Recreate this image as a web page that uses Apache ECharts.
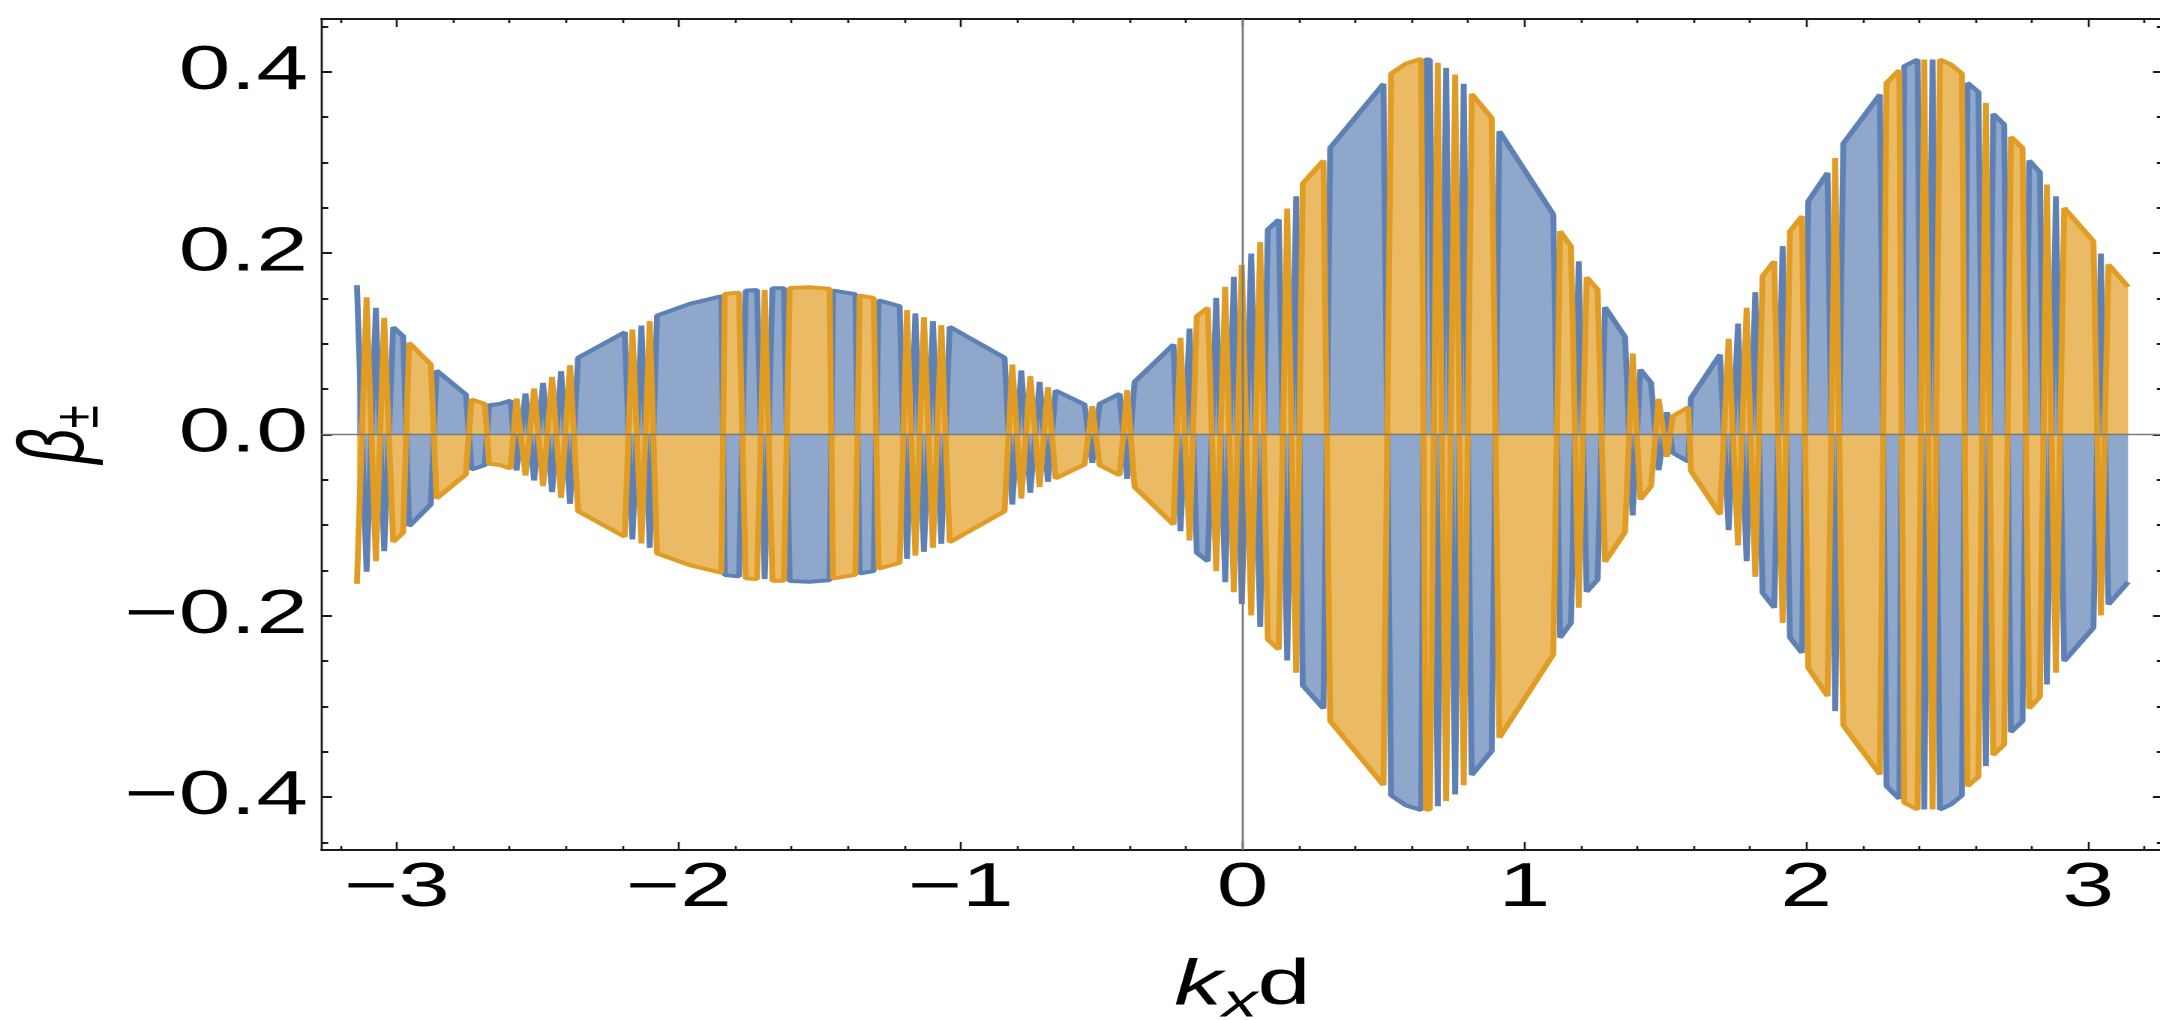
<!DOCTYPE html>
<html><head><meta charset="utf-8">
<script src="https://cdn.jsdelivr.net/npm/echarts@6/dist/echarts.min.js"></script>
<style>
html,body{margin:0;padding:0;background:#fff;width:2160px;height:1020px;overflow:hidden;}
#chart{width:1440px;height:1020px;transform:scaleX(1.5);transform-origin:0 0;}
</style></head><body><div id="chart"></div>
<script>
// k_x d sample points
const kx = [-3.1416,-3.1074,-3.0745,-3.0450,-3.0131,-2.9777,-2.9564,-2.8794,-2.8592,-2.7553,
-2.7351,-2.6879,-2.6727,-2.6348,-2.5968,-2.5755,-2.5436,-2.5131,-2.4812,-2.4493,
-2.4174,-2.3855,-2.3571,-2.1915,-2.1642,-2.1323,-2.1028,-2.0770,-1.9610,-1.8486,
-1.8369,-1.7862,-1.7624,-1.7223,-1.6950,-1.6677,-1.6266,-1.6064,-1.5355,-1.4645,
-1.4528,-1.3734,-1.3582,-1.3085,-1.2908,-1.2163,-1.1904,-1.1606,-1.1301,-1.0982,
-1.0684,-1.0390,-0.8440,-0.8167,-0.7848,-0.7528,-0.7199,-0.6904,-0.6631,-0.5603,
-0.5330,-0.5071,-0.4362,-0.4089,-0.3830,-0.2447,-0.2199,-0.1879,-0.1621,-0.1230,
-0.0933,-0.0613,-0.0309,-0.0025,0.0309,0.0628,0.0897,0.1287,0.1585,0.1904,
0.2138,0.2872,0.3110,0.5000,0.5273,0.5805,0.6337,0.6507,0.6649,0.6926,
0.7223,0.7543,0.7848,0.8131,0.8840,0.9113,1.1028,1.1266,1.1656,1.1926,
1.2209,1.2599,1.2862,1.3571,1.3840,1.4113,1.4493,1.4762,1.5060,1.5259,
1.5816,1.5911,1.6940,1.7245,1.7578,1.7883,1.8191,1.8450,1.8865,1.9160,
1.9422,1.9848,2.0071,2.0755,2.1028,2.1312,2.2613,2.2848,2.3298,2.3475,
2.3947,2.4184,2.4479,2.4741,2.5131,2.5521,2.5720,2.6110,2.6372,2.6631,
2.7021,2.7259,2.7670,2.7908,2.8287,2.8535,2.8855,2.9149,3.0188,3.0450,
3.0720,3.1416];

// beta_+ (blue)
const betaPlus = [0.1647,-0.1514,0.1397,-0.1287,0.1184,0.1085,-0.1011,-0.0772,0.0706,0.0441,
-0.0386,-0.0338,0.0323,0.0338,0.0375,-0.0397,0.0452,-0.0507,0.0570,-0.0636,
0.0698,-0.0764,0.0846,0.1128,-0.1158,0.1202,-0.1250,0.1312,0.1441,0.1526,
-0.1551,-0.1566,0.1588,0.1595,-0.1595,0.1614,0.1614,-0.1617,-0.1625,-0.1607,
0.1588,0.1548,-0.1533,-0.1507,0.1481,0.1415,-0.1371,0.1335,-0.1294,0.1250,
-0.1206,0.1188,0.0846,-0.0772,0.0706,-0.0643,0.0581,-0.0522,0.0485,0.0331,
-0.0312,0.0338,0.0449,-0.0489,0.0581,0.0993,-0.1066,0.1169,-0.1305,-0.1397,
0.1507,-0.1629,0.1739,-0.1870,0.1996,-0.2121,0.2261,0.2371,-0.2493,0.2628,
-0.2768,-0.3022,0.3162,0.3868,-0.3981,-0.4092,-0.4143,0.4140,0.4135,-0.4100,
0.4044,-0.3970,0.3868,-0.3757,-0.3493,0.3345,0.2426,-0.2242,-0.2077,0.1911,
-0.1735,-0.1599,0.1404,0.1077,-0.0893,0.0717,0.0570,-0.0393,0.0246,-0.0202,
-0.0300,0.0404,0.0882,-0.1055,0.1224,-0.1397,0.1570,-0.1746,-0.1911,0.2077,
-0.2242,-0.2408,0.2573,0.2886,-0.3051,0.3209,0.3750,-0.3879,-0.4018,0.4062,
0.4136,-0.4136,0.4136,-0.4136,-0.4081,-0.3981,0.3879,0.3776,-0.3658,0.3537,
0.3419,-0.3283,-0.3162,0.3022,0.2893,-0.2757,0.2628,-0.2500,-0.2132,0.1996,
-0.1875,-0.1629];

// beta_- (orange)
const betaMinus = [-0.1647,0.1514,-0.1397,0.1287,-0.1184,-0.1085,0.1011,0.0772,-0.0706,-0.0441,
0.0386,0.0338,-0.0323,-0.0338,-0.0375,0.0397,-0.0452,0.0507,-0.0570,0.0636,
-0.0698,0.0764,-0.0846,-0.1128,0.1158,-0.1202,0.1250,-0.1312,-0.1441,-0.1526,
0.1551,0.1566,-0.1588,-0.1595,0.1595,-0.1614,-0.1614,0.1617,0.1625,0.1607,
-0.1588,-0.1548,0.1533,0.1507,-0.1481,-0.1415,0.1371,-0.1335,0.1294,-0.1250,
0.1206,-0.1188,-0.0846,0.0772,-0.0706,0.0643,-0.0581,0.0522,-0.0485,-0.0331,
0.0312,-0.0338,-0.0449,0.0489,-0.0581,-0.0993,0.1066,-0.1169,0.1305,0.1397,
-0.1507,0.1629,-0.1739,0.1870,-0.1996,0.2121,-0.2261,-0.2371,0.2493,-0.2628,
0.2768,0.3022,-0.3162,-0.3868,0.3981,0.4092,0.4143,-0.4140,-0.4135,0.4100,
-0.4044,0.3970,-0.3868,0.3757,0.3493,-0.3345,-0.2426,0.2242,0.2077,-0.1911,
0.1735,0.1599,-0.1404,-0.1077,0.0893,-0.0717,-0.0570,0.0393,-0.0246,0.0202,
0.0300,-0.0404,-0.0882,0.1055,-0.1224,0.1397,-0.1570,0.1746,0.1911,-0.2077,
0.2242,0.2408,-0.2573,-0.2886,0.3051,-0.3209,-0.3750,0.3879,0.4018,-0.4062,
-0.4136,0.4136,-0.4136,0.4136,0.4081,0.3981,-0.3879,-0.3776,0.3658,-0.3537,
-0.3419,0.3283,0.3162,-0.3022,-0.2893,0.2757,-0.2628,0.2500,0.2132,-0.1996,
0.1875,0.1629];

const xTickValues = [-3,-2,-1,0,1,2,3];
const yTickValues = [-0.4,-0.2,0,0.2,0.4];
const seriesNames = ['\u03b2\u208a','\u03b2\u208b'];

const X_MIN = -3.2673, X_MAX = 3.2673, Y_MIN = -0.4583, Y_MAX = 0.4583;
const xMinor = []; for (let i = -16; i <= 16; i++) { if (i % 5 !== 0) xMinor.push(+(i * 0.2).toFixed(1)); }
const yMinor = []; for (let i = -9; i <= 9; i++) { if (i % 4 !== 0) yMinor.push(+(i * 0.05).toFixed(2)); }

const FONT = 'Liberation Sans';
const AX = '#1a1a1a';
const minus = s => s.replace('-', '\u2212');

function xAxisDef(pos, major, showLine, showLabels) {
  return {
    type: 'value', position: pos, min: X_MIN, max: X_MAX,
    axisLine: { show: showLine, onZero: false, lineStyle: { color: AX, width: 2 } },
    axisTick: { show: true, inside: true, length: major ? 8 : 4, customValues: major ? xTickValues : xMinor,
      lineStyle: { color: AX, width: 1.3 } },
    axisLabel: { show: showLabels, customValues: xTickValues, fontFamily: FONT, fontSize: 62, color: '#000', margin: 8,
      formatter: v => minus(String(v)) },
    splitLine: { show: false }, minorTick: { show: false }
  };
}
function yAxisDef(pos, major, showLine, showLabels) {
  return {
    type: 'value', position: pos, min: Y_MIN, max: Y_MAX,
    axisLine: { show: showLine, onZero: false, lineStyle: { color: AX, width: 1.4 } },
    axisTick: { show: true, inside: true, length: major ? 7 : 4.5, customValues: major ? yTickValues : yMinor,
      lineStyle: { color: AX, width: 2 } },
    axisLabel: { show: showLabels, customValues: yTickValues, fontFamily: FONT, fontSize: 62, color: '#000', margin: 9,
      formatter: v => minus(Number(v).toFixed(1)) },
    splitLine: { show: false }, minorTick: { show: false }
  };
}

const xMain = xAxisDef('bottom', true, true, true);
xMain.name = '{k|k}{s|x}{d|d}';
xMain.nameLocation = 'middle';
xMain.nameGap = 96;
xMain.nameMoveOverlap = false;
xMain.nameTextStyle = { color: '#000', rich: {
  k: { fontFamily: FONT, fontStyle: 'italic', fontSize: 64, color: '#000' },
  s: { fontFamily: FONT, fontStyle: 'italic', fontSize: 47, color: '#000', padding: [34, 0, 0, 0] },
  d: { fontFamily: FONT, fontSize: 64, color: '#000' } } };

const yMain = yAxisDef('left', true, true, true);
yMain.name = '{b|\u03b2}{s|\u00b1}';
yMain.nameLocation = 'middle';
yMain.nameRotate = 90;
yMain.nameGap = 140;
yMain.nameMoveOverlap = false;
yMain.nameTextStyle = { color: '#000', rich: {
  b: { fontFamily: FONT, fontStyle: 'italic', fontSize: 62, color: '#000' },
  s: { fontFamily: FONT, fontSize: 42, color: '#000', padding: [30, 0, 0, 0] } } };

const blueData = kx.map((k, i) => [k, betaPlus[i]]);
const orangeData = kx.map((k, i) => [k, betaMinus[i]]);

const chart = echarts.init(document.getElementById('chart'), null, { renderer: 'canvas', devicePixelRatio: 2 });
chart.setOption({
  animation: false,
  backgroundColor: '#ffffff',
  grid: { left: 214.33, top: 19, width: 1228, height: 831, outerBoundsMode: 'none', containLabel: false },
  xAxis: [ xMain, xAxisDef('bottom', false, false, false), xAxisDef('top', true, true, false), xAxisDef('top', false, false, false) ],
  yAxis: [ yMain, yAxisDef('left', false, false, false), yAxisDef('right', true, true, false), yAxisDef('right', false, false, false) ],
  series: [
    { name: seriesNames[0], type: 'line', xAxisIndex: 0, yAxisIndex: 0, data: blueData, showSymbol: false, symbol: 'none', z: 2,
      lineStyle: { color: '#5E81B5', width: 3.9, join: 'bevel' },
      itemStyle: { color: '#5E81B5' },
      areaStyle: { color: '#5E81B5', opacity: 0.7, origin: 0 } },
    { name: seriesNames[1], type: 'line', xAxisIndex: 0, yAxisIndex: 0, data: orangeData, showSymbol: false, symbol: 'none', z: 3,
      lineStyle: { color: '#E19C24', width: 3.9, join: 'bevel' },
      itemStyle: { color: '#E19C24' },
      areaStyle: { color: '#E19C24', opacity: 0.7, origin: 0 },
      markLine: { silent: true, symbol: ['none', 'none'], label: { show: false }, animation: false,
        lineStyle: { color: '#7a7a7a', width: 1.4, type: 'solid' },
        data: [ { yAxis: 0 }, { xAxis: 0 } ] } }
  ]
});
</script></body></html>
